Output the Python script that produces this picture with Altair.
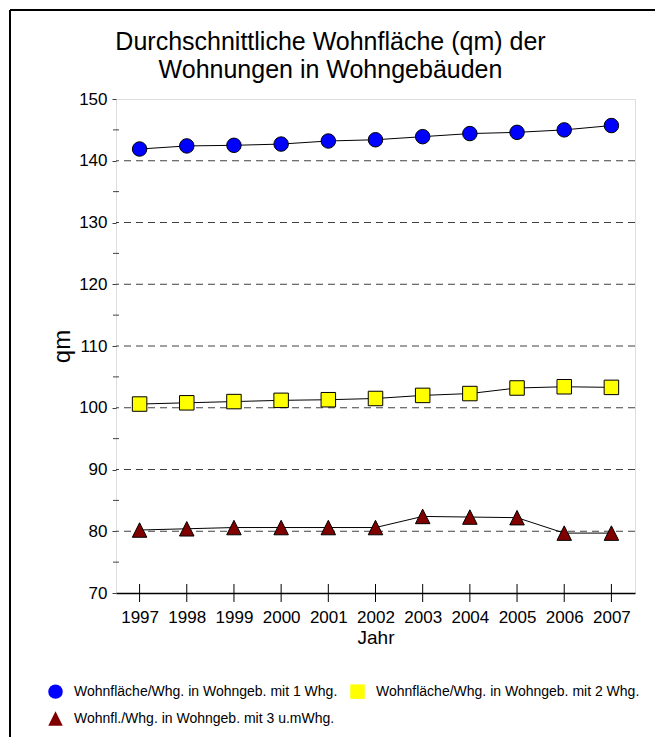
import altair as alt
import pandas as pd

years = ["1997", "1998", "1999", "2000", "2001", "2002", "2003", "2004", "2005", "2006", "2007"]
s1 = [141.9, 142.4, 142.5, 142.7, 143.2, 143.4, 143.9, 144.4, 144.6, 145.0, 145.7]
s2 = [100.6, 100.8, 101.0, 101.2, 101.3, 101.5, 102.0, 102.3, 103.2, 103.4, 103.3]
s3 = [80.2, 80.4, 80.6, 80.6, 80.6, 80.6, 82.4, 82.3, 82.2, 79.7, 79.7]
series_names = [
    "Wohnfläche/Whg. in Wohngeb. mit 1 Whg.",
    "Wohnfläche/Whg. in Wohngeb. mit 2 Whg.",
    "Wohnfl./Whg. in Wohngeb. mit 3 u.mWhg.",
]
colors = ["#0000FF", "#FFFF00", "#800000"]
shapes = ["circle", "square", "M0,-1L1,1L-1,1Z"]
y_labels = [70, 80, 90, 100, 110, 120, 130, 140, 150]
grid_values = [80, 90, 100, 110, 120, 130, 140]
minor_values = [75, 85, 95, 105, 115, 125, 135, 145]

W, H = 519, 494
SANS = "Liberation Sans, Arial, Helvetica, sans-serif"

rows = []
for name, vals in zip(series_names, [s1, s2, s3]):
    for yr, v in zip(years, vals):
        rows.append({"year": yr, "value": v, "series": name})
df = pd.DataFrame(rows)

x_scale = alt.Scale(type="point", padding=0.5, domain=years)
y_scale = alt.Scale(domain=[70, 150], nice=False, zero=False)

x_axis = alt.Axis(
    labelAngle=0,
    labelFont=SANS,
    labelFontSize=17,
    labelColor="black",
    labelBaseline="alphabetic",
    labelPadding=29,
    ticks=False,
    domainColor="black",
    domainWidth=1.5,
    grid=False,
    titleFont=SANS,
    titleFontSize=19,
    titleFontWeight="normal",
    titleColor="black",
    titleX=W / 2,
    titleY=50,
    titleBaseline="alphabetic",
    titleAlign="center",
)
y_axis = alt.Axis(
    values=y_labels,
    labelFont=SANS,
    labelFontSize=17,
    labelColor="black",
    labelPadding=5,
    tickSize=4,
    tickColor="#404040",
    tickWidth=1,
    domain=False,
    grid=False,
    titleFont=SANS,
    titleFontSize=24,
    titleFontWeight="normal",
    titleColor="black",
    titleAngle=270,
    titleX=-54,
    titleY=H / 2,
    titleAlign="center",
    titleBaseline="middle",
)


def X():
    return alt.X("year:O", scale=x_scale, title="Jahr", axis=x_axis)


def Y():
    return alt.Y("value:Q", scale=y_scale, title="qm", axis=y_axis)


grid_df = pd.DataFrame({"value": grid_values})
grid = alt.Chart(grid_df).mark_rule(
    color="#404040", strokeWidth=1, strokeDash=[7, 5]
).encode(y=Y())

minor_df = pd.DataFrame({"value": minor_values})
minor = alt.Chart(minor_df).mark_rule(color="#404040", strokeWidth=1).encode(
    y=Y(),
    x=alt.value(-3),
    x2=alt.value(3),
)

xt_df = pd.DataFrame({"year": years})
xticks = alt.Chart(xt_df).mark_rule(color="black", strokeWidth=1).encode(
    x=X(),
    y=alt.value(H - 9),
    y2=alt.value(H + 9),
)

lines = alt.Chart(df).mark_line(color="black", strokeWidth=1).encode(
    x=X(),
    y=Y(),
    detail="series:N",
)

points = alt.Chart(df).mark_point(
    filled=True, size=210, stroke="black", strokeWidth=1, opacity=1
).encode(
    x=X(),
    y=Y(),
    color=alt.Color(
        "series:N",
        scale=alt.Scale(domain=series_names, range=colors),
        legend=alt.Legend(
            title=None,
            orient="none",
            legendX=-68,
            legendY=585,
            columns=2,
            direction="horizontal",
            labelFont=SANS,
            labelFontSize=14,
            labelColor="black",
            labelLimit=400,
            labelOffset=11,
            columnPadding=12,
            rowPadding=12,
            symbolSize=210,
            symbolStrokeWidth=0,
            symbolOpacity=1,
            padding=0,
        ),
    ),
    shape=alt.Shape("series:N", scale=alt.Scale(domain=series_names, range=shapes)),
)

frame_df = pd.DataFrame({"a": [0]})
frame_left = alt.Chart(frame_df).mark_rule(color="black", strokeWidth=2).encode(
    x=alt.value(-106), y=alt.value(-89), y2=alt.value(H + 300)
)
frame_top = alt.Chart(frame_df).mark_rule(color="black", strokeWidth=2).encode(
    y=alt.value(-89), x=alt.value(-106), x2=alt.value(W + 300)
)

chart = alt.layer(
    grid, minor, lines, xticks, points, frame_left, frame_top
).properties(
    width=W,
    height=H,
    title=alt.TitleParams(
        text=["Durchschnittliche Wohnfläche (qm) der", "Wohnungen in Wohngebäuden"],
        font=SANS,
        fontSize=25,
        fontWeight="normal",
        color="black",
        lineHeight=28,
        anchor="middle",
        dx=-45,
        dy=88,
        offset=14,
    ),
    autosize=alt.AutoSizeParams(type="none"),
    padding={"left": 108, "top": 91, "right": 20, "bottom": 144},
).configure_view(
    stroke="#6a6a6a", strokeWidth=2
).configure(background="white")

chart.save("out.html", embed_options={"renderer": "svg", "actions": False})
